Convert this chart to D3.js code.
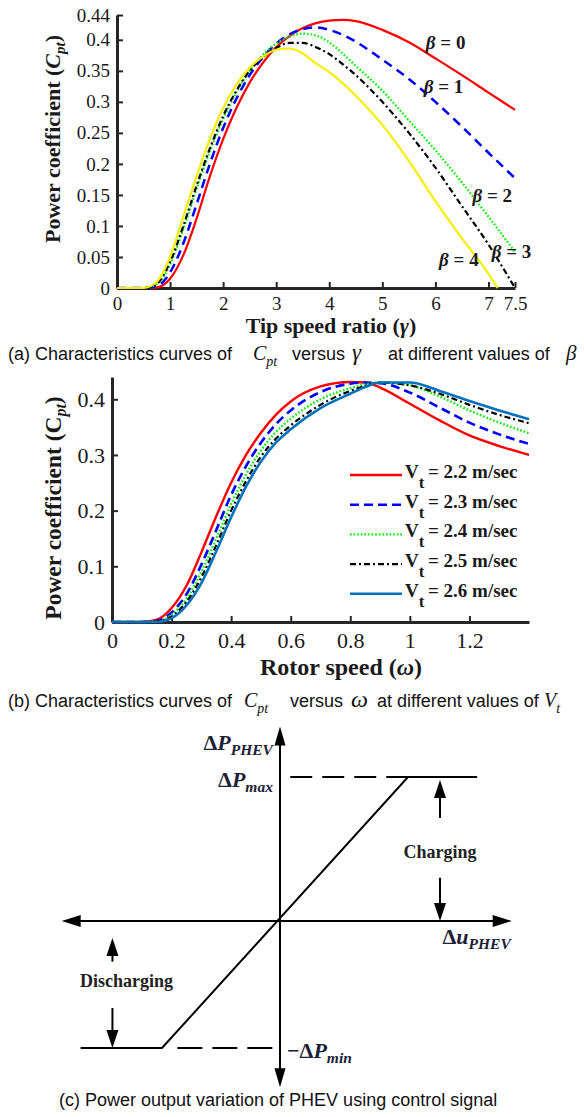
<!DOCTYPE html>
<html>
<head>
<meta charset="utf-8">
<script src="https://cdn.jsdelivr.net/npm/d3@7"></script>
<style>
  body { margin: 0; background: #fff; }
</style>
</head>
<body>
<svg id="fig" width="584" height="1117"></svg>
<script>
// ---- (a) Cpt versus tip speed ratio, one curve per pitch angle ----
const gamma = [0, 0.5, 0.75, 1, 1.25, 1.5, 1.75, 2, 2.25, 2.5, 2.75, 3, 3.25, 3.5, 3.75, 4, 4.25, 4.5, 5, 5.5, 6, 6.5, 7, 7.5];
const cpBeta0 = [0, 0, 0.001, 0.015, 0.053, 0.112, 0.18, 0.24, 0.29, 0.331, 0.363, 0.388, 0.406, 0.419, 0.427, 0.431, 0.432, 0.43, 0.416, 0.396, 0.37, 0.343, 0.315, 0.287];
const cpBeta1 = [0, 0, 0.003, 0.025, 0.072, 0.135, 0.2, 0.258, 0.305, 0.343, 0.372, 0.394, 0.409, 0.417, 0.42, 0.416, 0.408, 0.397, 0.368, 0.337, 0.3, 0.26, 0.218, 0.177];
const cpBeta2 = [0, 0, 0.006, 0.038, 0.095, 0.16, 0.22, 0.272, 0.315, 0.35, 0.376, 0.394, 0.405, 0.41, 0.407, 0.396, 0.378, 0.358, 0.318, 0.27, 0.222, 0.17, 0.115, 0.058];
const cpBeta3 = [0, 0, 0.007, 0.042, 0.1, 0.165, 0.225, 0.277, 0.318, 0.35, 0.372, 0.387, 0.395, 0.395, 0.388, 0.377, 0.361, 0.343, 0.3, 0.25, 0.194, 0.132, 0.07, 0];
const gammaBeta4 = [0, 0.5, 0.75, 1, 1.25, 1.5, 1.75, 2, 2.25, 2.5, 2.75, 3, 3.25, 3.5, 3.75, 4, 4.5, 5, 5.5, 6, 6.5, 7, 7.17];
const cpBeta4 = [0, 0, 0.01, 0.05, 0.115, 0.18, 0.24, 0.29, 0.328, 0.355, 0.373, 0.384, 0.386, 0.378, 0.362, 0.348, 0.31, 0.263, 0.205, 0.14, 0.08, 0.023, 0];
const betaNames = ['0', '1', '2', '3', '4'];

const xTicksA = [0, 1, 2, 3, 4, 5, 6, 7, 7.5];
const xTickLabelsA = ['0', '1', '2', '3', '4', '5', '6', '7', '7.5'];
const yTicksA = [0, 0.05, 0.1, 0.15, 0.2, 0.25, 0.3, 0.35, 0.4, 0.44];
const yTickLabelsA = ['0', '0.05', '0.1', '0.15', '0.2', '0.25', '0.3', '0.35', '0.4', '0.44'];

// ---- (b) Cpt versus rotor speed, one curve per wind speed ----
const omega = [0, 0.1, 0.15, 0.2, 0.25, 0.3, 0.35, 0.4, 0.45, 0.5, 0.55, 0.6, 0.7, 0.8, 0.85, 0.9, 1.0, 1.1, 1.2, 1.3, 1.4];
const cpV22 = [0, 0, 0.004, 0.025, 0.065, 0.125, 0.19, 0.25, 0.3, 0.34, 0.372, 0.396, 0.423, 0.431, 0.43, 0.421, 0.392, 0.362, 0.335, 0.316, 0.3];
const cpV23 = [0, 0, 0.002, 0.017, 0.05, 0.103, 0.165, 0.228, 0.28, 0.322, 0.355, 0.38, 0.413, 0.428, 0.43, 0.429, 0.412, 0.385, 0.358, 0.337, 0.32];
const cpV24 = [0, 0, 0.001, 0.013, 0.042, 0.09, 0.15, 0.212, 0.265, 0.308, 0.341, 0.365, 0.4, 0.42, 0.427, 0.43, 0.425, 0.405, 0.38, 0.358, 0.339];
const cpV25 = [0, 0, 0.001, 0.01, 0.036, 0.08, 0.138, 0.2, 0.253, 0.297, 0.329, 0.353, 0.39, 0.415, 0.424, 0.43, 0.425, 0.41, 0.39, 0.372, 0.357];
const cpV26 = [0, 0, 0, 0.007, 0.03, 0.07, 0.127, 0.188, 0.243, 0.288, 0.322, 0.346, 0.384, 0.41, 0.422, 0.43, 0.43, 0.415, 0.397, 0.38, 0.364];
const windNames = ['2.2', '2.3', '2.4', '2.5', '2.6'];

const xTicksB = [0, 0.2, 0.4, 0.6, 0.8, 1, 1.2];
const xTickLabelsB = ['0', '0.2', '0.4', '0.6', '0.8', '1', '1.2'];
const yTicksB = [0, 0.1, 0.2, 0.3, 0.4];
const yTickLabelsB = ['0', '0.1', '0.2', '0.3', '0.4'];

// ---- (c) PHEV power vs control signal (normalised units) ----
const uAxisEnds = [-1.85, 1.81];
const pAxisEnds = [-1.31, 1.35];
const uChar = [-1.69, -1, 1, 1.54];
const pChar = [-1, -1, 1, 1];
const uDashMax = [0.08, 1];
const uDashMin = [-0.87, -0.06];
const chargeArrows = [[1.25, 0.715, 0.98], [1.25, 0.30, 0.0]];
const dischargeArrows = [[-1.42, -0.32, -0.134], [-1.42, -0.685, -1]];

const serif = '"Liberation Serif","Times New Roman",serif';
const sans = '"Liberation Sans",Arial,sans-serif';
const axisColor = '#262626';

const svg = d3.select('#fig');

function drawAxes(x, y, xt, xl, yt, yl, fs, padX, padY) {
  const gx = svg.append('g')
    .attr('transform', `translate(0,${y.range()[0]})`)
    .call(d3.axisBottom(x).tickValues(xt).tickFormat((d, i) => xl[i])
      .tickSizeInner(-6).tickSizeOuter(0).tickPadding(padX));
  const gy = svg.append('g')
    .attr('transform', `translate(${x.range()[0]},0)`)
    .call(d3.axisLeft(y).tickValues(yt).tickFormat((d, i) => yl[i])
      .tickSizeInner(-6).tickSizeOuter(0).tickPadding(padY));
  [gx, gy].forEach(g => {
    g.select('.domain').attr('stroke', axisColor).attr('stroke-width', 3);
    g.selectAll('.tick line').attr('stroke', axisColor).attr('stroke-width', 2);
    g.selectAll('.tick text')
      .attr('fill', '#1a1a1a')
      .attr('font-family', serif)
      .attr('font-size', fs);
  });
}

function drawCurve(xs, ys, x, y, style) {
  const pts = xs.map((v, i) => [v, ys[i]]);
  svg.append('path')
    .datum(pts)
    .attr('fill', 'none')
    .attr('stroke', style.color)
    .attr('stroke-width', style.width)
    .attr('stroke-dasharray', style.dash || null)
    .attr('d', d3.line().x(d => x(d[0])).y(d => y(d[1])).curve(d3.curveMonotoneX));
}

// caption with inline math pieces
function caption(yBase, parts) {
  const t = svg.append('text').attr('y', yBase).attr('font-family', sans).attr('font-size', 18).attr('fill', '#111');
  parts.forEach(p => {
    const s = t.append('tspan').attr('x', p.x).attr('y', yBase).text(p.text);
    if (p.math) s.attr('font-family', serif).attr('font-style', 'italic').attr('font-size', p.size || 20);
    if (p.sub) {
      t.append('tspan').attr('dy', 6).attr('font-family', serif).attr('font-style', 'italic')
        .attr('font-size', 14).text(p.sub);
    }
  });
}

// ================= (a) =================
const xA = d3.scaleLinear().domain([0, 7.5]).range([117, 515]);
const yA = d3.scaleLinear().domain([0, 0.44]).range([288, 15]);

drawAxes(xA, yA, xTicksA, xTickLabelsA, yTicksA, yTickLabelsA, 19, 9, 7);

const stylesA = [
  { color: '#ff0000', width: 2.2 },
  { color: '#0000ff', width: 2.5, dash: '9,6' },
  { color: '#00ee00', width: 2.2, dash: '1.6,2' },
  { color: '#000000', width: 2.2, dash: '6,3,2,3' },
  { color: '#f5ef00', width: 2.2 }
];
[cpBeta0, cpBeta1, cpBeta2, cpBeta3].forEach((s, i) => drawCurve(gamma, s, xA, yA, stylesA[i]));
drawCurve(gammaBeta4, cpBeta4, xA, yA, stylesA[4]);

// curve labels placed at [gamma, Cpt] anchors
const betaAnchors = [[5.82, 0.385], [5.78, 0.314], [6.7, 0.138], [7.06, 0.048], [6.07, 0.035]];
betaNames.forEach((b, i) => {
  const t = svg.append('text')
    .attr('x', xA(betaAnchors[i][0])).attr('y', yA(betaAnchors[i][1]))
    .attr('font-family', serif).attr('font-weight', 'bold').attr('font-size', 19).attr('fill', '#1a1a1a');
  t.append('tspan').attr('font-style', 'italic').text('β');
  t.append('tspan').text(' = ' + b);
});

svg.append('text')
  .attr('x', 331).attr('y', 333).attr('text-anchor', 'middle')
  .attr('font-family', serif).attr('font-weight', 'bold').attr('font-size', 22).attr('fill', '#1a1a1a')
  .call(t => {
    t.append('tspan').text('Tip speed ratio (');
    t.append('tspan').attr('font-style', 'italic').text('γ');
    t.append('tspan').text(')');
  });

svg.append('text')
  .attr('transform', 'translate(60,139) rotate(-90)').attr('text-anchor', 'middle')
  .attr('font-family', serif).attr('font-weight', 'bold').attr('font-size', 22).attr('fill', '#1a1a1a')
  .call(t => {
    t.append('tspan').text('Power coefficient (');
    t.append('tspan').attr('font-style', 'italic').text('C');
    t.append('tspan').attr('font-style', 'italic').attr('font-size', 15).attr('dy', 5).text('pt');
    t.append('tspan').attr('dy', -5).text(')');
  });

caption(360, [
  { text: '(a) Characteristics curves of', x: 8 },
  { text: 'C', x: 253, math: true, sub: 'pt' },
  { text: 'versus', x: 292 },
  { text: 'γ', x: 352, math: true, size: 23 },
  { text: 'at different values of', x: 388 },
  { text: 'β', x: 566, math: true, size: 21 }
]);

// ================= (b) =================
const xB = d3.scaleLinear().domain([0, 1.4]).range([112, 529]);
const yB = d3.scaleLinear().domain([0, 0.44]).range([622, 377]);

drawAxes(xB, yB, xTicksB, xTickLabelsB, yTicksB, yTickLabelsB, 22, 10, 7);

const stylesB = [
  { color: '#ff0000', width: 2.4 },
  { color: '#0000ff', width: 2.6, dash: '9,5' },
  { color: '#00ee00', width: 2.4, dash: '1.6,2' },
  { color: '#000000', width: 2.2, dash: '6,3,2,3' },
  { color: '#0072bd', width: 2.6 }
];
[cpV22, cpV23, cpV24, cpV25, cpV26].forEach((s, i) => drawCurve(omega, s, xB, yB, stylesB[i]));

// legend
const legendRows = d3.range(windNames.length).map(i => 475 + i * 29.7);
windNames.forEach((w, i) => {
  const ly = legendRows[i];
  svg.append('line')
    .attr('x1', 350).attr('x2', 402).attr('y1', ly).attr('y2', ly)
    .attr('stroke', stylesB[i].color).attr('stroke-width', stylesB[i].width)
    .attr('stroke-dasharray', stylesB[i].dash || null);
  const t = svg.append('text')
    .attr('x', 405).attr('y', ly + 3)
    .attr('font-family', serif).attr('font-weight', 'bold').attr('font-size', 19).attr('fill', '#1a1a1a');
  t.append('tspan').text('V');
  t.append('tspan').attr('dy', 10).attr('font-size', 17).text('t');
  t.append('tspan').attr('dy', -10).attr('x', 428).text(`= ${w} m/sec`);
});

svg.append('text')
  .attr('x', 341).attr('y', 675).attr('text-anchor', 'middle')
  .attr('font-family', serif).attr('font-weight', 'bold').attr('font-size', 24).attr('fill', '#1a1a1a')
  .call(t => {
    t.append('tspan').text('Rotor speed (');
    t.append('tspan').attr('font-style', 'italic').text('ω');
    t.append('tspan').text(')');
  });

svg.append('text')
  .attr('transform', 'translate(61,508) rotate(-90)').attr('text-anchor', 'middle')
  .attr('font-family', serif).attr('font-weight', 'bold').attr('font-size', 23.5).attr('fill', '#1a1a1a')
  .call(t => {
    t.append('tspan').text('Power coefficient (C');
    t.append('tspan').attr('font-style', 'italic').attr('font-size', 16).attr('dy', 5).text('pt');
    t.append('tspan').attr('dy', -5).text(')');
  });

caption(707, [
  { text: '(b) Characteristics curves of', x: 8 },
  { text: 'C', x: 244, math: true, sub: 'pt' },
  { text: 'versus', x: 290 },
  { text: 'ω', x: 351, math: true, size: 24 },
  { text: 'at different values of', x: 377 },
  { text: 'V', x: 544, math: true, sub: 't' }
]);

// ================= (c) =================
const xC = d3.scaleLinear().domain([-1, 0, 1]).range([162, 280, 408]);
const yC = d3.scaleLinear().domain([-1, 0, 1]).range([1048, 921, 777]);
const gC = svg.append('g').attr('stroke', '#000').attr('fill', 'none').attr('stroke-width', 2);

function arrow(x1, y1, x2, y2, len, half) {
  const a = Math.atan2(y2 - y1, x2 - x1);
  const bx = x2 - len * Math.cos(a), by = y2 - len * Math.sin(a);
  gC.append('line').attr('x1', x1).attr('y1', y1).attr('x2', bx + 2 * Math.cos(a)).attr('y2', by + 2 * Math.sin(a));
  const px = -Math.sin(a) * half, py = Math.cos(a) * half;
  gC.append('path')
    .attr('d', `M${x2},${y2}L${bx + px},${by + py}L${bx - px},${by - py}Z`)
    .attr('fill', '#000').attr('stroke', 'none');
}

// axes with arrow tips at both ends
arrow(xC(0), yC(0), xC(uAxisEnds[1]), yC(0), 19, 6);
arrow(xC(0), yC(0), xC(uAxisEnds[0]), yC(0), 19, 6);
arrow(xC(0), yC(0), xC(0), yC(pAxisEnds[1]), 19, 5.5);
arrow(xC(0), yC(0), xC(0), yC(pAxisEnds[0]), 19, 5.5);

// saturating characteristic
gC.append('path')
  .datum(uChar.map((u, i) => [u, pChar[i]]))
  .attr('d', d3.line().x(d => xC(d[0])).y(d => yC(d[1])));

gC.append('line')
  .attr('x1', xC(uDashMax[0])).attr('x2', xC(uDashMax[1])).attr('y1', yC(1)).attr('y2', yC(1))
  .attr('stroke-dasharray', '22,10');
gC.append('line')
  .attr('x1', xC(uDashMin[0])).attr('x2', xC(uDashMin[1])).attr('y1', yC(-1)).attr('y2', yC(-1))
  .attr('stroke-dasharray', '25,10');

chargeArrows.concat(dischargeArrows).forEach(a => {
  arrow(xC(a[0]), yC(a[1]), xC(a[0]), yC(a[2]), 18, 6);
});

const labelInk = '#1b2036';
function deltaLabel(x, y, anchor, main, sub) {
  const t = svg.append('text')
    .attr('x', x).attr('y', y).attr('text-anchor', anchor)
    .attr('font-family', serif).attr('font-weight', 'bold').attr('font-size', 22).attr('fill', labelInk);
  t.append('tspan').text(main[0]);
  t.append('tspan').attr('font-style', 'italic').text(main[1]);
  t.append('tspan').attr('font-style', 'italic').attr('font-size', 15.5).attr('dy', 5).text(sub);
}
deltaLabel(xC(-0.06), yC(1.19), 'end', ['Δ', 'P'], 'PHEV');
deltaLabel(xC(-0.06), yC(0.93), 'end', ['Δ', 'P'], 'max');
deltaLabel(xC(1.27), yC(-0.18), 'start', ['Δ', 'u'], 'PHEV');
deltaLabel(xC(0.055), yC(-1.08), 'start', ['−Δ', 'P'], 'min');

svg.append('text')
  .attr('x', xC(1.25)).attr('y', yC(0.44)).attr('text-anchor', 'middle')
  .attr('font-family', serif).attr('font-weight', 'bold').attr('font-size', 18).attr('fill', '#222')
  .text('Charging');
svg.append('text')
  .attr('x', xC(-1.3)).attr('y', yC(-0.52)).attr('text-anchor', 'middle')
  .attr('font-family', serif).attr('font-weight', 'bold').attr('font-size', 18).attr('fill', '#222')
  .text('Discharging');

caption(1106, [
  { text: '(c) Power output variation of PHEV using control signal', x: 59 }
]);
</script>
</body>
</html>
